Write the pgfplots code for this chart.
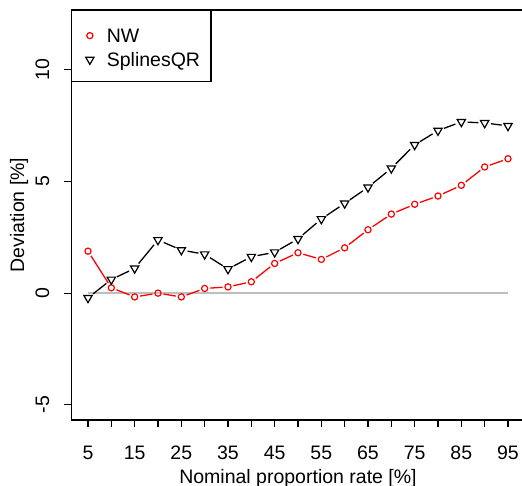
\documentclass[border=0pt]{standalone}
\usepackage{pgfplots}
\pgfplotsset{compat=1.18}
\usepackage{pgfplotstable}
\usepackage{fontspec}
\setmainfont{Liberation Sans}

\definecolor{refgray}{HTML}{BEBEBE}

% legend symbols: one mark per entry, with fixed cell size
\pgfplotsset{
  mark only legend/.style={legend image code/.code={%
    \path[draw=none, fill=none] (-7pt,-14pt) rectangle (7pt,12pt);
    \draw[##1] plot coordinates {(0pt,0pt)};}},
  tall mark only legend/.style={legend image code/.code={%
    \path[draw=none, fill=none] (-7pt,-12pt) rectangle (7pt,17pt);
    \draw[##1] plot coordinates {(0pt,0pt)};}},
}

% deviation from the nominal rate, per method
\pgfplotstableread{
x   nw     sq
5   1.88  -0.21
10  0.24   0.61
15  -0.17  1.11
20  0.00   2.38
25  -0.17  1.93
30  0.21   1.74
35  0.28   1.08
40  0.51   1.63
45  1.33   1.83
50  1.81   2.43
55  1.51   3.32
60  2.03   4.02
65  2.84   4.74
70  3.54   5.59
75  3.98   6.64
80  4.35   7.28
85  4.83   7.67
90  5.65   7.62
95  6.02   7.49
}\devtab

\begin{document}
\begin{tikzpicture}[font=\fontsize{19.5}{23}\selectfont]
\useasboundingbox (0,0) rectangle (522pt,486pt);
\clip (0,0) rectangle (522pt,486pt);
\begin{axis}[
  at={(71.2pt,66pt)}, anchor=south west,
  scale only axis, width=453.6pt, height=410pt,
  xmin=1.4, xmax=98.6, ymin=-5.68, ymax=12.68,
  axis line style={line width=1.3pt},
  tick style={line width=1.3pt, black},
  tick align=outside, major tick length=7pt,
  tick pos=left,
  xtick={5,10,...,95},
  xticklabels={5,,15,,25,,35,,45,,55,,65,,75,,85,,95},
  ytick={-5,0,5,10},
  yticklabels={-5,0,5,10},
  xticklabel style={anchor=base, inner sep=0pt},
  xticklabel shift=33pt,
  yticklabel style={rotate=90, anchor=base, inner sep=0pt},
  yticklabel shift=15pt,
  xlabel={Nominal proportion rate [\%]},
  xlabel style={at={(axis description cs:0.5,-0.1537)}, anchor=base, inner sep=0pt},
  ylabel={Deviation [\%]},
  ylabel style={at={(axis description cs:-0.1036,0.5)}, anchor=base, inner sep=0pt},
  legend style={at={(0,1)}, anchor=north west, draw=black, line width=1.3pt,
    fill=white, inner xsep=11pt, inner ysep=8pt, row sep=0pt, column sep=10pt,
    nodes={inner sep=0pt, text height=14pt, text depth=0pt, anchor=west}},
  legend cell align=left,
  mark only legend,
]
% reference line at zero deviation
\addplot[refgray, line width=1.5pt, forget plot] coordinates {(5,0) (95,0)};

% connecting segments, cut short at both ends so they stop before the symbols
\pgfplotstablegetrowsof{\devtab}
\pgfmathtruncatemacro\nlast{\pgfplotsretval-2}
\foreach \i in {0,...,\nlast}{
  \pgfmathtruncatemacro\k{\i+1}
  \pgfplotstablegetelem{\i}{x}\of\devtab \let\xa\pgfplotsretval
  \pgfplotstablegetelem{\k}{x}\of\devtab \let\xb\pgfplotsretval
  \pgfplotstablegetelem{\i}{nw}\of\devtab \let\ya\pgfplotsretval
  \pgfplotstablegetelem{\k}{nw}\of\devtab \let\yb\pgfplotsretval
  \pgfplotstablegetelem{\i}{sq}\of\devtab \let\za\pgfplotsretval
  \pgfplotstablegetelem{\k}{sq}\of\devtab \let\zb\pgfplotsretval
  \edef\segs{%
    \noexpand\addplot[red, line width=1.3pt, shorten <=5.5pt, shorten >=5.5pt, forget plot]
      coordinates {(\xa,\ya) (\xb,\yb)};
    \noexpand\addplot[black, line width=1.3pt, shorten <=6.3pt, shorten >=6.3pt, forget plot]
      coordinates {(\xa,\za) (\xb,\zb)};
  }
  \segs
}

\addplot[only marks, red, mark=o, mark size=3.1pt, line width=1.2pt,
  tall mark only legend]
  table[x=x, y=nw] {\devtab};
\addlegendentry{NW}
\addplot[only marks, black, mark=triangle, mark size=4.8pt, line width=1.2pt,
  mark options={rotate=180}]
  table[x=x, y=sq] {\devtab};
\addlegendentry{SplinesQR}
\end{axis}
\end{tikzpicture}
\end{document}
